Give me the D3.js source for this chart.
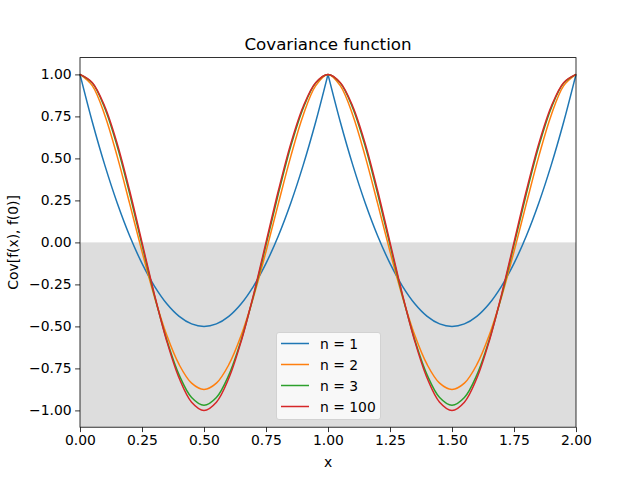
<!DOCTYPE html>
<html><head><meta charset="utf-8">
<script src="https://cdn.jsdelivr.net/npm/d3@7"></script>
<style>body{margin:0;background:#fff;}svg{display:block;font-family:"DejaVu Sans",sans-serif;}</style>
</head><body><svg id="c" width="640" height="480"></svg>
<script>
const xs = [0,0.05,0.1,0.15,0.2,0.25,0.3,0.35,0.4,0.45,0.5,0.55,0.6,0.65,0.7,0.75,0.8,0.85,0.9,0.95,1.0,
  1.05,1.1,1.15,1.2,1.25,1.3,1.35,1.4,1.45,1.5,1.55,1.6,1.65,1.7,1.75,1.8,1.85,1.9,1.95,2.0];
const n1 = [1,0.715,0.46,0.235,0.04,-0.125,-0.26,-0.365,-0.44,-0.485,-0.5,-0.485,-0.44,-0.365,-0.26,-0.125,0.04,0.235,0.46,0.715,1,
  0.715,0.46,0.235,0.04,-0.125,-0.26,-0.365,-0.44,-0.485,-0.5,-0.485,-0.44,-0.365,-0.26,-0.125,0.04,0.235,0.46,0.715,1];
const n2 = [1,0.932,0.757,0.512,0.232,-0.055,-0.323,-0.553,-0.728,-0.838,-0.875,-0.838,-0.728,-0.553,-0.323,-0.055,0.232,0.512,0.757,0.932,1,
  0.932,0.757,0.512,0.232,-0.055,-0.323,-0.553,-0.728,-0.838,-0.875,-0.838,-0.728,-0.553,-0.323,-0.055,0.232,0.512,0.757,0.932,1];
const n3 = [1,0.948,0.799,0.572,0.290,-0.015,-0.315,-0.581,-0.790,-0.923,-0.969,-0.923,-0.790,-0.581,-0.315,-0.015,0.290,0.572,0.799,0.948,1,
  0.948,0.799,0.572,0.290,-0.015,-0.315,-0.581,-0.790,-0.923,-0.969,-0.923,-0.790,-0.581,-0.315,-0.015,0.290,0.572,0.799,0.948,1];
const n100 = [1,0.951,0.809,0.588,0.309,0,-0.309,-0.588,-0.809,-0.951,-1,-0.951,-0.809,-0.588,-0.309,0,0.309,0.588,0.809,0.951,1,
  0.951,0.809,0.588,0.309,0,-0.309,-0.588,-0.809,-0.951,-1,-0.951,-0.809,-0.588,-0.309,0,0.309,0.588,0.809,0.951,1];
const seriesNames = ["n = 1","n = 2","n = 3","n = 100"];
const colors = ["#1f77b4","#ff7f0e","#2ca02c","#d62728"];
const xTicks = [0,0.25,0.5,0.75,1,1.25,1.5,1.75,2];
const yTicks = [1,0.75,0.5,0.25,0,-0.25,-0.5,-0.75,-1];
const title = "Covariance function", xLabel = "x", yLabel = "Cov[f(x), f(0)]";

const svg = d3.select("#c");
const L=80, R=576, T=57.6, B=427.2;
const x = d3.scaleLinear().domain([0,2]).range([L,R]);
const y = d3.scaleLinear().domain([-1.1,1.1]).range([B,T]);
const fmt = v => (v<0?"\u2212":"") + Math.abs(v).toFixed(2);

// shaded negative region
svg.append("rect").attr("x",x(0)).attr("y",y(0)).attr("width",x(2)-x(0)).attr("height",y(-1.1)-y(0)).attr("fill","#dddddd");

const series = [n1,n2,n3,n100];
const gLines = svg.append("g");
const line = d3.line().x(d=>x(d[0])).y(d=>y(d[1])).curve(d3.curveCatmullRom.alpha(0.5));
series.forEach((s,i)=>{
  const data = xs.map((v,j)=>[v,s[j]]);
  // n = 1 has a cusp at x = 1: draw its two arches separately so the cusp stays sharp
  const pieces = i===0 ? [data.slice(0,21), data.slice(20)] : [data];
  const d = pieces.map(p=>line(p)).join("");
  gLines.append("path").attr("d",d).attr("fill","none").attr("stroke",colors[i]).attr("stroke-width",1.5).attr("stroke-linejoin","miter");
});

// axes
const xa = svg.append("g").attr("transform",`translate(0,${B})`).call(d3.axisBottom(x).tickValues(xTicks).tickFormat(fmt).tickSizeOuter(0).tickSize(4.9).tickPadding(3.5));
const ya = svg.append("g").attr("transform",`translate(${L},0)`).call(d3.axisLeft(y).tickValues(yTicks).tickFormat(fmt).tickSizeOuter(0).tickSize(4.9).tickPadding(3.5));
[xa,ya].forEach(a=>{a.select(".domain").remove();a.selectAll("text").attr("font-size","13.9px").attr("fill","#000").attr("font-family","DejaVu Sans");a.selectAll("line").attr("stroke","#000").attr("stroke-width",0.8);});

svg.append("rect").attr("x",L).attr("y",T).attr("width",R-L).attr("height",B-T).attr("fill","none").attr("stroke","#000").attr("stroke-width",0.8);

svg.append("text").attr("x",(L+R)/2).attr("y",50).attr("text-anchor","middle").attr("font-size","16.7px").text(title);
svg.append("text").attr("x",(L+R)/2).attr("y",467).attr("text-anchor","middle").attr("font-size","13.9px").text(xLabel);
svg.append("text").attr("transform",`translate(18,${(T+B)/2}) rotate(-90)`).attr("text-anchor","middle").attr("font-size","13.9px").text(yLabel);

// legend
const lg = svg.append("g");
lg.append("rect").attr("x",276.5).attr("y",332.5).attr("width",104).attr("height",87).attr("rx",2.5).attr("fill","#ffffff").attr("fill-opacity",0.8).attr("stroke","#cccccc").attr("stroke-width",0.8);
seriesNames.forEach((nm,i)=>{
  const yy = 343.5 + i*21;
  lg.append("line").attr("x1",281).attr("x2",309).attr("y1",yy).attr("y2",yy).attr("stroke",colors[i]).attr("stroke-width",1.5);
  lg.append("text").attr("x",320).attr("y",yy+5).attr("font-size","13.9px").text(nm);
});
</script></body></html>
